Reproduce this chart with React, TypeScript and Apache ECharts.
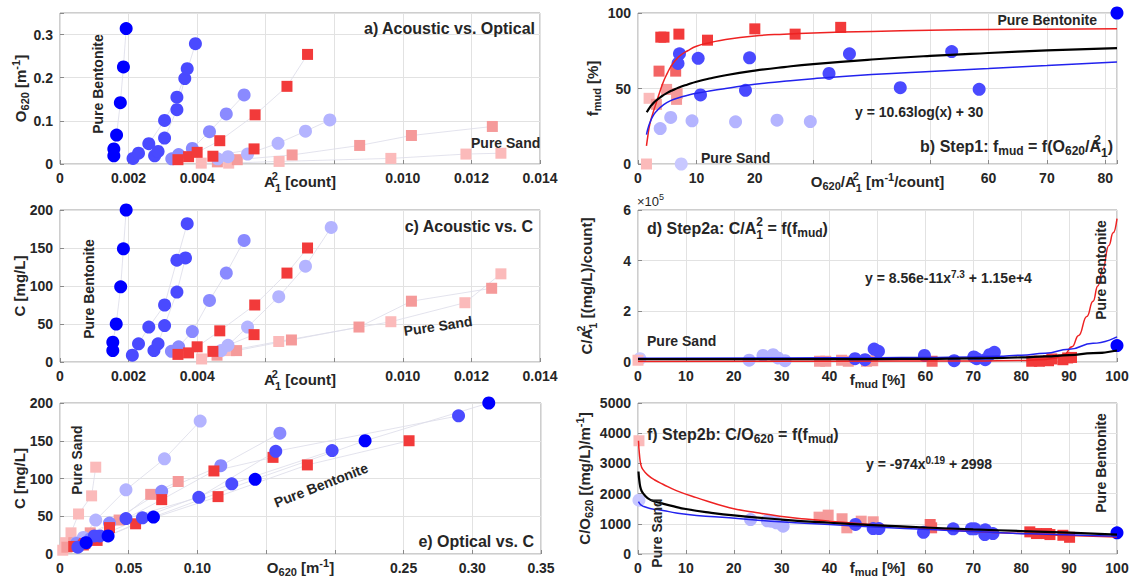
import React, { useEffect, useRef } from "react";
import * as echarts from "echarts";

const FONT = "'Liberation Sans', Arial, Helvetica, sans-serif";
const TXT = "#262626";

// colours
const C_B100 = "#0000ff";
const C_BM = "#4a4aff";
const C_BL1 = "#8a8aff";
const C_BL2 = "#b4b4ff";
const C_B0 = "#c8c8ff";
const C_R = "#f23a3a";
const C_R61 = "#f36464";
const C_P = "#f59a9a";
const C_LP = "#fbbaba";

// ---------- panel a : A1^2 [count] vs O620 [1/m]
const aB100 = [[0.00157, 0.019], [0.00157, 0.035], [0.00165, 0.067], [0.00176, 0.142], [0.00185, 0.225], [0.00193, 0.314]];
const aBM1 = [[0.00213, 0.013], [0.00229, 0.025], [0.00259, 0.047], [0.00305, 0.101], [0.00341, 0.155], [0.00371, 0.221]];
const aBM2 = [[0.00276, 0.019], [0.00286, 0.029], [0.00305, 0.06], [0.00341, 0.126], [0.00364, 0.198], [0.00395, 0.279]];
const aBL1 = [[0.00326, 0.012], [0.00346, 0.022], [0.00386, 0.036], [0.00436, 0.075], [0.00485, 0.116], [0.00537, 0.16]];
const aBL2 = [[0.0046, 0.012], [0.0049, 0.017], [0.00547, 0.023], [0.00636, 0.048], [0.00716, 0.076], [0.00787, 0.102]];
const aR1 = [[0.00344, 0.01], [0.00375, 0.017], [0.004, 0.027], [0.00466, 0.054], [0.00569, 0.114], [0.00662, 0.18], [0.00722, 0.254]];
const aR2 = [[0.00446, 0.018], [0.00566, 0.035]];
const aP = [[0.00459, 0.005], [0.00517, 0.01], [0.00677, 0.021], [0.00874, 0.043], [0.01025, 0.066], [0.01261, 0.087]];
const aLP = [[0.00412, 0.002], [0.00492, 0.002], [0.00639, 0.006], [0.00965, 0.013], [0.01184, 0.023], [0.01286, 0.025]];

// ---------- panel c : A1^2 vs C [mg/L]
const cB100 = [[0.00154, 15], [0.00154, 26], [0.00164, 50], [0.00177, 99], [0.00185, 149], [0.00193, 200]];
const cBM1 = [[0.00211, 9], [0.00229, 24], [0.00259, 46], [0.00305, 75], [0.00341, 134], [0.00371, 182]];
const cBM2 = [[0.00274, 15], [0.00286, 24], [0.00305, 48], [0.00341, 92], [0.00366, 137]];
const cBL1 = [[0.00325, 14], [0.00346, 20], [0.00386, 40], [0.00436, 81], [0.00485, 117], [0.00537, 160]];
const cBL2 = [[0.0047, 15], [0.0049, 22], [0.00547, 46], [0.00638, 86], [0.00716, 126], [0.00791, 177]];
const cR1 = [[0.00344, 10], [0.00375, 12], [0.004, 20], [0.00466, 41], [0.00568, 75], [0.00662, 117], [0.00722, 150]];
const cR2 = [[0.00446, 14], [0.00566, 36]];
const cP = [[0.00458, 9], [0.00515, 15], [0.00675, 29], [0.00872, 46], [0.01025, 80], [0.01259, 97]];
const cLP = [[0.00413, 4], [0.00494, 15], [0.00638, 27], [0.00965, 53], [0.01181, 78], [0.01286, 116]];

// ---------- panel e : O620 vs C
const eB100 = [[0.019, 15], [0.035, 24], [0.068, 49], [0.142, 99], [0.222, 150], [0.312, 200]];
const eBM1 = [[0.013, 9], [0.025, 24], [0.048, 47], [0.101, 75], [0.157, 136], [0.29, 183]];
const eBM2 = [[0.019, 15], [0.029, 24], [0.06, 48], [0.125, 93], [0.198, 137]];
const eBL1 = [[0.012, 14], [0.022, 20], [0.036, 41], [0.074, 83], [0.117, 117], [0.16, 160]];
const eBL2 = [[0.012, 15], [0.017, 22], [0.026, 45], [0.048, 85], [0.076, 126], [0.102, 176]];
const eR1 = [[0.01, 10], [0.017, 12], [0.027, 18], [0.055, 40], [0.115, 76], [0.18, 118], [0.254, 150]];
const eR2 = [[0.018, 14], [0.036, 35], [0.074, 72], [0.112, 110], [0.155, 128]];
const eP = [[0.005, 9], [0.01, 15], [0.022, 28], [0.043, 45], [0.066, 79], [0.086, 96]];
const eLP = [[0.002, 5], [0.004, 15], [0.008, 28], [0.0135, 53], [0.023, 77], [0.026, 115]];

// ---------- panel b : O620/A1^2 vs f_mud
const bB100 = [[82, 100]];
const bBM = [[7.1, 73], [6.85, 66.6], [10.3, 70], [19.1, 70.3], [10.7, 45.7], [18.4, 48.8], [32.7, 60], [36.2, 73], [53.7, 74.5], [44.9, 50.5], [58.4, 49.5]];
const bBL2 = [[3.8, 23.5], [5.6, 30.8], [9.25, 28.6], [16.7, 27.9], [23.8, 29], [29.5, 28.1]];
const bB0 = [[7.4, 0]];
const bR = [[3.9, 84], [4.45, 84], [7.0, 86], [11.9, 82], [20.0, 89.5], [26.9, 86], [34.7, 90.5]];
const bR61 = [[3.6, 61.5], [6.45, 61.5]];
const bP = [[4.9, 49.4], [6.7, 46.6], [6.6, 42.8], [3.15, 39.5]];
const bLP = [[1.9, 43.5], [1.45, 0]];
const bFitRed = [[1.45, 12], [1.7, 19], [2, 26], [2.5, 33], [3, 39], [3.5, 45], [4.3, 54], [5, 60], [5.7, 65], [6.5, 69], [7.1, 71.5], [8.5, 75], [10, 78], [12.5, 80.5], [15, 82.5], [20, 84.8], [25, 86], [30, 86.8], [40, 87.8], [50, 88.6], [60, 89], [70, 89.3], [82, 89.6]];
const bFitBlue = [[1.45, 19.5], [1.7, 23.5], [2, 27], [2.6, 32], [3.3, 35.5], [4.3, 39], [5.5, 41.8], [7.1, 44], [8.5, 45.5], [10, 46.8], [12.5, 48.5], [15, 50], [20, 52.8], [25, 54.8], [30, 56.5], [40, 59.2], [50, 61.3], [60, 63.2], [70, 65.2], [82, 67.5]];
const bFitBlack = [[1.5, 34.3], [2, 37.4], [2.5, 39.7], [3, 41.7], [4, 44.7], [5, 47.1], [6, 49], [7, 50.7], [8.5, 52.7], [10, 54.5], [12.5, 56.8], [15, 58.8], [20, 61.8], [25, 64.2], [30, 66.2], [40, 69.2], [50, 71.6], [60, 73.5], [70, 75.2], [82, 76.8]];

// ---------- panel d : f_mud vs C/A1^2 (x 1e5)
const dB100 = [[100, 0.65]];
const dBM = [[45.3, 0.13], [47.4, 0.09], [49.3, 0.51], [50.2, 0.42], [59.8, 0.26], [66, 0.05], [70.1, 0.2], [70.7, 0.13], [72.5, 0.09], [73.4, 0.29], [74.4, 0.38]];
const dBL2 = [[23.2, 0.07], [26.1, 0.26], [28.2, 0.29], [29.2, 0.16], [30.7, 0.05]];
const dB0 = [[0.4, 0.13]];
const dR = [[82.2, 0.03], [83.8, 0.03], [85.7, 0.05], [86.4, 0.12], [88.7, 0.09], [89.7, 0.16], [90.5, 0.18]];
const dR61 = [[61.4, 0.03]];
const dP = [[37.9, 0.03], [39.2, 0.03], [42.5, 0.07], [43.9, 0.03], [47.7, 0.03], [49, 0.05]];
const dLP = [[0, 0.07]];
const dFitRed = [[0, 0.02], [40, 0.03], [70, 0.04], [80, 0.06], [85, 0.1], [87, 0.15], [89, 0.29], [90.6, 0.6], [92, 1.05], [93.7, 1.8], [95, 2.4], [96, 3.0], [97, 3.65], [98.3, 4.6], [99.2, 5.1], [100, 5.66]];
const dFitBlue = [[0, 0.15], [30, 0.16], [50, 0.17], [60, 0.18], [70, 0.2], [75, 0.23], [80, 0.27], [85, 0.35], [90, 0.5], [95, 0.74], [100, 0.99]];
const dFitBlack = [[0, 0.115], [50, 0.117], [60, 0.125], [70, 0.14], [75, 0.155], [80, 0.18], [85, 0.22], [90, 0.27], [95, 0.35], [100, 0.455]];

// ---------- panel f : f_mud vs C/O620
const fB100 = [[100, 700]];
const fBM = [[45.4, 977], [49.1, 843], [50.3, 843], [59.6, 720], [65.8, 833], [69.6, 833], [70.3, 833], [72.4, 643], [72.5, 800], [74.1, 677]];
const fBL2 = [[23.5, 1140], [27, 1100], [27.8, 1087], [28.9, 1033], [30.3, 920]];
const fB0 = [[0.2, 1780]];
const fR = [[81.8, 733], [83.2, 677], [85.3, 677], [86, 643], [88.7, 620], [90.1, 553]];
const fR61 = [[61.0, 977], [61.3, 867]];
const fP = [[37.8, 1220], [39.7, 1287], [42.6, 1167], [43.6, 867], [46.6, 1087], [49.1, 1067]];
const fLP = [[0.2, 3750]];
const fFitRed = [[0.1, 3750], [0.3, 3300], [0.6, 2950], [1, 2800], [2, 2620], [3.5, 2450], [5.2, 2310], [8, 2100], [12.2, 1867], [19.1, 1533], [24, 1390], [29.6, 1253], [35, 1160], [40, 1087], [50.5, 953], [60.9, 843], [71.3, 733], [81.8, 667], [90, 610], [100, 560]];
const fFitBlack = [[0.1, 2730], [0.3, 2400], [0.6, 2150], [1, 2024], [2, 1850], [3.5, 1740], [5, 1675], [7.5, 1575], [10, 1489], [15, 1370], [20, 1277], [30, 1140], [40, 1035], [50, 950], [60, 878], [70, 815], [80, 760], [90, 708], [100, 640]];
const fFitBlue = [[0.1, 1733], [0.5, 1640], [1, 1587], [2.5, 1510], [5.2, 1443], [8, 1360], [12.2, 1277], [19.1, 1200], [29.6, 1067], [40, 977], [50.5, 887], [60.9, 810], [71.3, 733], [81.8, 667], [100, 587]];

// tick labels hidden to leave room for the axis titles
const hideA = [0.006, 0.008];
const hideB = [30, 40, 50];
const hideD = [50];
const hideE = [0.15, 0.2];

function mkRich(size: number, key: string, weight = "bold") {
  const sub = Math.round(size * 0.72);
  const base: any = { fontSize: size, fontWeight: weight, fontFamily: FONT };
  base[key] = TXT;
  const off = Math.round(size * 0.6);
  const offK = Math.round(size * 0.8);
  const s: any = { ...base, fontSize: sub, padding: [off, 0, 0, 0] };
  const p: any = { ...base, fontSize: sub, padding: [0, 0, off, 0] };
  // stacked pair (superscript drawn above the following subscript)
  const p0: any = { ...base, fontSize: sub, padding: [0, 0, offK, 0], width: 0.01 };
  const s1: any = { ...base, fontSize: sub, padding: [offK, 0, 0, 0] };
  return { n: base, s, p, p0, s1 };
}

const grids = [
  { left: 60, top: 13, width: 480, height: 151 },
  { left: 638, top: 13, width: 479, height: 151 },
  { left: 60, top: 210, width: 480, height: 152 },
  { left: 638, top: 210, width: 479, height: 152 },
  { left: 60, top: 403, width: 481, height: 151 },
  { left: 638, top: 403, width: 479, height: 151 },
];

function isIn(v: number, list: number[]) {
  return list.some((h) => Math.abs(h - v) < 1e-9);
}

function axis(gi: number, min: number, max: number, interval: number, fmt: (v: number) => string, name: string, nameGap: number) {
  return {
    type: "value",
    gridIndex: gi,
    min,
    max,
    interval,
    axisLine: { show: false },
    axisTick: { show: true, inside: true, length: 4, lineStyle: { color: "#8a8a8a" } },
    splitLine: { show: true, lineStyle: { color: "#e2e2e2", width: 1 } },
    axisLabel: { formatter: fmt, color: TXT, fontSize: 14, fontWeight: "bold", fontFamily: FONT, margin: 7, hideOverlap: false },
    name,
    nameLocation: "middle",
    nameGap,
    nameMoveOverlap: false,
    nameTextStyle: { color: TXT, fontSize: 15, fontWeight: "bold", fontFamily: FONT, rich: mkRich(15, "color") },
  };
}

const fmtA = (v: number) => (isIn(v, hideA) || v > 0.0141 ? "" : v === 0 ? "0" : v.toFixed(3));
const fmtAy = (v: number) => (Math.abs(v - 0.35) < 1e-9 ? "" : v === 0 ? "0" : v.toFixed(1));
const fmtB = (v: number) => (isIn(v, hideB) || Math.abs(v % 10) > 1e-9 ? "" : String(v));
const fmtInt = (v: number) => String(Math.round(v));
const fmtD = (v: number) => (isIn(v, hideD) ? "" : String(v));
const fmtE = (v: number) => (isIn(v, hideE) ? "" : v === 0 ? "0" : v.toFixed(2));

function sc(data: number[][], gi: number, color: string, circle: boolean, z = 3) {
  return {
    type: "scatter",
    xAxisIndex: gi,
    yAxisIndex: gi,
    data,
    symbol: circle ? "circle" : "rect",
    symbolSize: circle ? 13 : 11,
    itemStyle: { color, opacity: 1 },
    z,
    silent: true,
  };
}
function conn(data: number[][], gi: number) {
  return {
    type: "line",
    xAxisIndex: gi,
    yAxisIndex: gi,
    data,
    symbol: "none",
    lineStyle: { color: "#dcdce8", width: 0.8 },
    z: 2,
    silent: true,
  };
}
function fit(data: number[][], gi: number, color: string, width: number, mono = false) {
  const s: any = {
    type: "line",
    xAxisIndex: gi,
    yAxisIndex: gi,
    data,
    symbol: "none",
    smooth: 0.5,
    lineStyle: { color, width },
    z: 5,
    silent: true,
  };
  if (mono) s.smoothMonotone = "x";
  return s;
}

function groupSeries(gi: number, g: any) {
  const out: any[] = [];
  const list: [number[][], string, boolean][] = [
    [g.LP, C_LP, false], [g.P, C_P, false], [g.BL2, C_BL2, true], [g.BL1, C_BL1, true],
    [g.R2, C_R, false], [g.R1, C_R, false], [g.BM2, C_BM, true], [g.BM1, C_BM, true], [g.B100, C_B100, true],
  ];
  list.forEach(([d]) => out.push(conn(d, gi)));
  list.forEach(([d, c, circ]) => out.push(sc(d, gi, c, circ)));
  return out;
}

function ratioSeries(gi: number, g: any, fits: any[]) {
  const out: any[] = [];
  out.push(sc(g.B0, gi, C_B0, true));
  out.push(sc(g.LP, gi, C_LP, false));
  out.push(sc(g.BL2, gi, C_BL2, true));
  out.push(sc(g.P, gi, C_P, false));
  out.push(sc(g.R61, gi, C_R61, false));
  out.push(sc(g.BM, gi, C_BM, true));
  out.push(sc(g.R, gi, C_R, false));
  out.push(sc(g.B100, gi, C_B100, true));
  fits.forEach(([d, c, w, m]) => out.push(fit(d, gi, c, w, m)));
  return out;
}

const gRich = mkRich(16, "fill");
const gRichS = mkRich(14, "fill");

function txt(x: number, y: number, text: string, align: string, rot = 0, size = 16, weight = "bold") {
  const rich = size === 16 ? gRich : size === 14 ? gRichS : mkRich(size, "fill", weight);
  return {
    type: "text",
    x,
    y,
    rotation: rot,
    z: 50,
    silent: true,
    style: {
      text,
      rich,
      fill: TXT,
      fontSize: size,
      fontWeight: weight,
      fontFamily: FONT,
      align,
      verticalAlign: "middle",
      textAlign: align,
      textVerticalAlign: "middle",
    },
  };
}

const V = Math.PI / 2;

export default function App() {
  const ref = useRef<HTMLDivElement>(null);
  useEffect(() => {
    if (!ref.current) return;
    const chart = echarts.init(ref.current, undefined, { renderer: "svg" });
    const A2name = "{n|A}{p0|2}{s1|1}{n| [count]}";
    const XG = 6;
    const XGB = 3;
    const option: any = {
      animation: false,
      backgroundColor: "#ffffff",
      grid: grids.map((g) => ({
        ...g,
        show: true,
        borderColor: "#9c9c9c",
        borderWidth: 1,
        backgroundColor: "transparent",
        containLabel: false,
        outerBoundsMode: "none",
      })),
      xAxis: [
        axis(0, 0, 0.014, 0.002, fmtA, A2name, XG),
        axis(1, 0, 82, 10, fmtB, "{n|O}{s|620}{n|/A}{p0|2}{s1|1}{n| [m}{p|-1}{n|/count]}", XG),
        axis(2, 0, 0.014, 0.002, fmtA, A2name, XG),
        axis(3, 0, 100, 10, fmtD, "{n|f}{s|mud}{n| [%]}", XG + 1),
        axis(4, 0, 0.35, 0.05, fmtE, "{n|O}{s|620}{n| [m}{p|-1}{n|]}", XGB),
        axis(5, 0, 100, 10, fmtD, "{n|f}{s|mud}{n| [%]}", XGB),
      ],
      yAxis: [
        axis(0, 0, 0.35, 0.1, fmtAy, "{n|O}{s|620}{n| [m}{p|-1}{n|]}", 30),
        axis(1, 0, 100, 50, fmtInt, "{n|f}{s|mud}{n| [%]}", 36),
        axis(2, 0, 200, 50, fmtInt, "{n|C [mg/L]}", 33),
        axis(3, 0, 6, 2, fmtInt, "{n|C/A}{p0|2}{s1|1}{n| [(mg/L)/count]}", 40),
        axis(4, 0, 200, 50, fmtInt, "{n|C [mg/L]}", 33),
        axis(5, 0, 5000, 1000, fmtInt, "{n|C/O}{s|620}{n| [(mg/L)/m}{p|-1}{n|]}", 44),
      ],
      series: [
        ...groupSeries(0, { B100: aB100, BM1: aBM1, BM2: aBM2, BL1: aBL1, BL2: aBL2, R1: aR1, R2: aR2, P: aP, LP: aLP }),
        ...groupSeries(2, { B100: cB100, BM1: cBM1, BM2: cBM2, BL1: cBL1, BL2: cBL2, R1: cR1, R2: cR2, P: cP, LP: cLP }),
        ...groupSeries(4, { B100: eB100, BM1: eBM1, BM2: eBM2, BL1: eBL1, BL2: eBL2, R1: eR1, R2: eR2, P: eP, LP: eLP }),
        ...ratioSeries(1, { B100: bB100, BM: bBM, BL2: bBL2, B0: bB0, R: bR, R61: bR61, P: bP, LP: bLP }, [
          [bFitRed, "#ee2222", 1.5, false], [bFitBlue, "#2222ee", 1.5, false], [bFitBlack, "#000000", 2.2, false],
        ]),
        ...ratioSeries(3, { B100: dB100, BM: dBM, BL2: dBL2, B0: dB0, R: dR, R61: dR61, P: dP, LP: dLP }, [
          [dFitRed, "#ee2222", 1.5, true], [dFitBlue, "#2222ee", 1.5, true], [dFitBlack, "#000000", 2.2, true],
        ]),
        ...ratioSeries(5, { B100: fB100, BM: fBM, BL2: fBL2, B0: fB0, R: fR, R61: fR61, P: fP, LP: fLP }, [
          [fFitRed, "#ee2222", 1.5, false], [fFitBlue, "#2222ee", 1.5, false], [fFitBlack, "#000000", 2.2, false],
        ]),
      ],
      graphic: [
        // a
        txt(535, 28, "{n|a) Acoustic vs. Optical}", "right"),
        txt(98, 84, "{n|Pure Bentonite}", "center", V, 14),
        txt(471, 143, "{n|Pure Sand}", "left", 0, 14),
        // b
        txt(1097, 20, "{n|Pure Bentonite}", "right", 0, 14),
        txt(855, 112, "{n|y = 10.63log(x) + 30}", "left", 0, 14),
        txt(1113, 146, "{n|b) Step1: f}{s|mud}{n| = f(O}{s|620}{n|/A}{p0|2}{s1|1}{n|)}", "right"),
        txt(701, 158, "{n|Pure Sand}", "left", 0, 14),
        // c
        txt(533, 226, "{n|c) Acoustic vs. C}", "right"),
        txt(89, 289, "{n|Pure Bentonite}", "center", V, 14),
        txt(438, 326, "{n|Pure Sand}", "center", 0.148, 14),
        // d
        txt(647, 228, "{n|d) Step2a: C/A}{p0|2}{s1|1}{n| = f(f}{s|mud}{n|)}", "left"),
        txt(865, 278, "{n|y = 8.56e-11x}{p|7.3}{n| + 1.15e+4}", "left", 0, 14),
        txt(1101, 270, "{n|Pure Bentonite}", "center", V, 14),
        txt(647, 341, "{n|Pure Sand}", "left", 0, 14),
        txt(637, 201, "{n|\u00d710}{p|5}", "left", 0, 13, "normal"),
        // e
        txt(534, 541, "{n|e) Optical vs. C}", "right"),
        txt(77, 460, "{n|Pure Sand}", "center", V, 14),
        txt(321, 485, "{n|Pure Bentonite}", "center", 0.37, 14),
        // f
        txt(647, 434, "{n|f) Step2b: C/O}{s|620}{n| = f(f}{s|mud}{n|)}", "left"),
        txt(866, 464, "{n|y = -974x}{p|0.19}{n| + 2998}", "left", 0, 14),
        txt(1101, 463, "{n|Pure Bentonite}", "center", V, 14),
        txt(657, 533, "{n|Pure Sand}", "center", V, 14),
      ],
    };
    chart.setOption(option);
    return () => chart.dispose();
  }, []);
  return (
    <div
      ref={ref}
      style={{ position: "absolute", left: 0, top: 0, width: 1133, height: 578, background: "#ffffff" }}
    />
  );
}
